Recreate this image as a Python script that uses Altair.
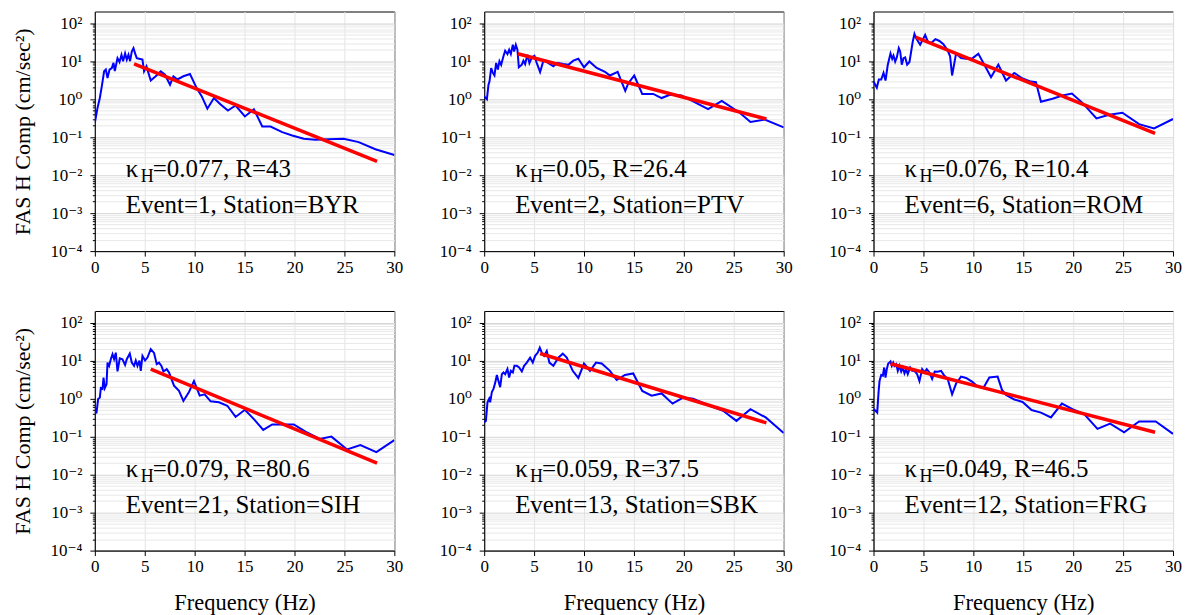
import altair as alt
import pandas as pd

# ---------------- data ----------------
f1 = [0, 0.27, 0.5, 0.7, 0.93, 1.1, 1.27, 1.47, 1.7, 1.87, 2.0, 2.27, 2.47, 2.67, 2.83, 3.03, 3.2, 3.37, 3.53, 3.7,
      3.87, 4.03, 4.2, 4.43, 4.77, 4.93, 5.17, 5.6, 6.1, 6.6, 7.03, 7.53, 7.87, 8.27, 8.87, 9.53, 10.2, 10.7, 11.27,
      11.93, 12.6, 13.33, 14.1, 15.03, 15.93, 16.77, 17.6, 18.77, 19.77, 20.93, 22.1, 23.43, 24.93, 26.43, 28.1, 30]
a1 = [0.24, 0.59, 1.07, 2.2, 5.4, 6.0, 3.6, 6.0, 6.6, 9.0, 5.5, 12, 9.5, 14.7, 10, 16, 11, 14.7, 10, 18,
      22, 16, 12, 11.6, 11, 5.4, 7.3, 3.1, 4.0, 5.4, 4.4, 2.4, 4.0, 3.3, 4.0, 4.6, 1.96, 1.2, 0.56,
      1.07, 0.72, 0.5, 0.68, 0.35, 0.54, 0.19, 0.19, 0.135, 0.11, 0.091, 0.085, 0.088, 0.091, 0.074, 0.048, 0.034]

f2 = [0, 0.27, 0.43, 0.53, 0.7, 0.87, 1.03, 1.2, 1.37, 1.53, 1.7, 1.93, 2.1, 2.33, 2.5, 2.67, 2.87, 3.0, 3.17, 3.33,
      3.47, 3.77, 3.93, 4.1, 4.33, 4.53, 4.77, 5.03, 5.27, 5.6, 5.93, 6.33, 6.93, 7.33, 7.93, 8.43, 8.93, 9.43, 10.0,
      10.53, 11.27, 12.1, 12.6, 13.37, 14.13, 14.43, 15.03, 15.83, 16.93, 17.77, 18.6, 19.77, 20.93, 22.43, 23.8,
      25.6, 26.67, 28.1, 30]
a2 = [1.17, 0.99, 2.4, 2.9, 6.6, 4.9, 4.2, 9, 6, 10, 8, 13.5, 18.8, 15.4, 20, 15.4, 27, 18, 27, 20,
      6.9, 8.1, 10.3, 8.4, 14.7, 8.9, 12.5, 13.9, 8.9, 5.2, 10.3, 9.3, 7.3, 9, 8.4, 8, 10.3, 11.6, 6.9,
      9.8, 6.6, 5.2, 4.2, 5.2, 1.66, 2.6, 4.2, 1.37, 1.37, 1.07, 1.3, 1.25, 0.87, 0.55, 0.9,
      0.44, 0.25, 0.29, 0.18]

f3 = [0, 0.33, 0.53, 0.77, 1.0, 1.2, 1.43, 1.7, 1.87, 2.0, 2.17, 2.33, 2.53, 2.67, 2.83, 3.0, 3.17, 3.37, 3.6, 3.77,
      3.93, 4.1, 4.27, 4.67, 4.93, 5.17, 5.43, 5.77, 6.2, 6.6, 7.0, 7.43, 7.67, 7.87, 8.27, 8.77, 9.27, 9.93, 10.5,
      11.1, 11.77, 12.5, 13.27, 14.1, 14.93, 15.77, 16.27, 16.77, 17.93, 18.93, 19.87, 20.93, 22.33, 23.6, 24.93,
      26.6, 28.1, 30]
a3 = [2.9, 2.0, 3.3, 3.3, 4.9, 3.1, 8.1, 16, 11.5, 14, 9.8, 12.6, 22, 18, 8.1, 12, 12.6, 8.1, 9.5, 18,
      33, 52, 40, 27, 37, 49, 33, 30, 38, 34, 28, 19, 13.4, 4.2, 16, 12, 11.6, 12, 15.7,
      8.1, 3.8, 8.1, 3.1, 4.9, 3.5, 2.9, 2.8, 0.85, 1.03, 1.25, 1.4, 0.8, 0.31, 0.39, 0.44,
      0.22, 0.17, 0.30]

f4 = [0, 0.17, 0.33, 0.5, 0.6, 0.77, 0.87, 1.0, 1.17, 1.27, 1.43, 1.6, 1.77, 1.93, 2.1, 2.27, 2.5, 2.77, 3.03, 3.2,
      3.5, 3.7, 3.93, 4.1, 4.27, 4.47, 4.6, 4.77, 5.03, 5.27, 5.6, 5.93, 6.2, 6.43, 6.67, 6.87, 7.2, 7.43, 7.93, 8.43,
      8.87, 9.43, 9.93, 10.5, 11.0, 11.6, 12.43, 13.27, 14.1, 15.03, 15.93, 16.87, 17.77, 18.77, 19.93, 21.1, 22.53,
      23.7, 25.27, 26.6, 28.2, 30]
a4 = [0.41, 0.43, 0.98, 1.07, 1.9, 1.8, 3.6, 1.9, 2.4, 8.9, 7.3, 10.9, 14.8, 10.9, 16.2, 5.2, 11.5, 10.9, 7.7, 10.9,
      15.3, 8.9, 7.3, 10.1, 7.3, 10.1, 5.4, 13.4, 10.1, 12.1, 20, 16, 8.1, 8.9, 7.3, 5.2, 6.0, 4.9, 2.2, 1.6,
      0.87, 1.5, 2.9, 1.2, 1.3, 0.85, 0.8, 0.65, 0.33, 0.51, 0.29, 0.15, 0.21, 0.21, 0.21, 0.135, 0.087,
      0.1, 0.046, 0.06, 0.039, 0.081]

f5 = [0, 0.17, 0.33, 0.5, 0.6, 0.77, 0.93, 1.1, 1.27, 1.43, 1.6, 1.77, 1.93, 2.1, 2.33, 2.5, 2.67, 2.87, 3.03, 3.27,
      3.5, 3.77, 4.0, 4.27, 4.6, 4.87, 5.1, 5.37, 5.57, 5.77, 6.0, 6.27, 6.53, 6.93, 7.43, 7.87, 8.27, 8.87, 9.43,
      10.0, 10.6, 11.2, 11.77, 12.6, 13.27, 14.1, 14.93, 15.83, 16.77, 17.77, 18.87, 19.93, 20.93, 22.6, 23.93,
      25.27, 26.67, 28.2, 30]
a5 = [0.24, 0.26, 0.8, 1.0, 0.8, 1.5, 1.8, 2.6, 4.2, 2.9, 2.0, 4.4, 4.9, 4.4, 6, 3.6, 5.4, 4.9, 7.3, 7.3,
      6.6, 5.2, 7.3, 8.9, 12, 8.9, 13.4, 16.3, 22, 16.3, 13.4, 18, 8.9, 7.3, 12, 15.3, 12, 5.4, 3.5,
      8.4, 5.4, 8.9, 8.4, 5.4, 3.1, 4.2, 4.6, 1.6, 1.2, 1.37, 0.74, 1.07, 1.0, 0.65, 0.48,
      0.26, 0.53, 0.32, 0.125]

f6 = [0, 0.2, 0.37, 0.5, 0.6, 0.77, 0.93, 1.07, 1.2, 1.33, 1.47, 1.6, 1.7, 1.83, 1.97, 2.1, 2.27, 2.43, 2.6, 2.77,
      2.93, 3.1, 3.27, 3.43, 3.67, 3.87, 4.1, 4.37, 4.6, 4.87, 5.1, 5.33, 5.6, 5.87, 6.13, 6.43, 6.77, 7.1, 7.43,
      7.87, 8.27, 8.77, 9.27, 9.87, 10.43, 11.0, 11.6, 12.43, 12.87, 13.27, 14.1, 14.93, 15.83, 16.77, 17.77,
      18.87, 19.93, 21.1, 22.43, 23.7, 25.1, 26.6, 28.27, 30]
a6 = [0.53, 0.48, 0.43, 1.44, 2.9, 4.2, 4.0, 6.6, 3.6, 6, 8.4, 8.9, 9.5, 7.3, 8.9, 7.3, 8.1, 5.4, 7.3, 5.2,
      6.6, 4.6, 6.0, 4.4, 6.6, 5.4, 5.4, 4.4, 2.9, 6, 4.9, 6, 4.9, 3.3, 5.2, 5.1, 5.4, 4.0, 3.3,
      1.3, 2.5, 3.8, 3.5, 2.8, 2.1, 1.9, 3.6, 3.8, 1.7, 1.25, 0.95, 0.82, 0.5, 0.43, 0.32,
      0.74, 0.53, 0.39, 0.16, 0.22, 0.13, 0.25, 0.25, 0.118]

# kappa fit lines (start, end)
fit_f = [[3.93, 28.27], [3.37, 28.27], [4.2, 28.2], [5.6, 28.27], [5.6, 28.27], [1.7, 28.2]]
fit_a = [[8.5, 0.023], [15.7, 0.30], [43, 0.126], [6.0, 0.020], [15.4, 0.23], [8.3, 0.13]]

kappa_vals = ["0.077", "0.05", "0.076", "0.079", "0.059", "0.049"]
r_vals = ["43", "26.4", "10.4", "80.6", "37.5", "46.5"]
events = ["1", "2", "6", "21", "13", "12"]
stations = ["BYR", "PTV", "ROM", "SIH", "SBK", "FRG"]

x_ticks = [0, 5, 10, 15, 20, 25, 30]
decades = [0.0001, 0.001, 0.01, 0.1, 1.0, 10.0, 100.0]
decade_labels = ["10⁻⁴", "10⁻³", "10⁻²", "10⁻¹", "10⁰", "10¹", "10²"]
y_title = "FAS H Comp (cm/sec²)"
x_title = "Frequency (Hz)"

# ---------------- styling ----------------
FONT = "'Liberation Serif', 'Times New Roman', 'DejaVu Serif', serif"
W, H = 300, 240

minor_ticks = [round(m * d, 8) for d in decades[:-1] for m in range(2, 10)]
y_values = decades + minor_ticks
dec_arr = "[" + ",".join(repr(d) for d in decades) + "]"
is_dec = f"indexof({dec_arr}, datum.value) >= 0"
label_expr = ""
for d, lab in zip(decades, decade_labels):
    label_expr += f"datum.value == {repr(d)} ? '{lab}' : "
label_expr += "''"


def panel(i, show_ytitle, show_xtitle):
    df = pd.DataFrame({"f": [f1, f2, f3, f4, f5, f6][i], "a": [a1, a2, a3, a4, a5, a6][i]})
    fit = pd.DataFrame({"f": fit_f[i], "a": fit_a[i]})

    xkw = dict(values=x_ticks, grid=True, gridColor="#e4e4e4", domainColor="black", tickColor="black",
               tickSize=5, labelFont=FONT, labelFontSize=17, labelColor="black", labelPadding=3,
               labelFlush=False, labelOverlap=False)
    if show_xtitle:
        xkw.update(title=x_title, titleFont=FONT, titleFontSize=22.5, titleFontWeight="normal",
                   titleColor="black", titleX=W / 2, titleY=52, titleAlign="center", titleBaseline="middle")
    else:
        xkw.update(title=None)

    ykw = dict(values=y_values, labelExpr=label_expr, grid=True,
               gridColor={"condition": {"test": is_dec, "value": "#d6d6d6"}, "value": "#e8e8e8"},
               domainColor="black", tickColor="black",
               tickSize={"condition": {"test": is_dec, "value": 5}, "value": 2.5},
               labelFont=FONT, labelFontSize=17, labelColor="black", labelPadding=8,
               labelOverlap=False, labelBound=False)
    if show_ytitle:
        ykw.update(title=y_title, titleFont=FONT, titleFontSize=22, titleFontWeight="normal",
                   titleColor="black", titleAngle=270, titleX=-72, titleY=H / 2,
                   titleAlign="center", titleBaseline="middle")
    else:
        ykw.update(title=None)

    xs = alt.Scale(domain=[0, 30], nice=False, zero=False)
    ys = alt.Scale(type="log", domain=[0.0001, 203], nice=False)

    blue = alt.Chart(df).mark_line(color="#0000ff", strokeWidth=2, clip=True).encode(
        x=alt.X("f:Q", scale=xs, axis=alt.Axis(**xkw)),
        y=alt.Y("a:Q", scale=ys, axis=alt.Axis(**ykw)),
    )
    red = alt.Chart(fit).mark_line(color="#ff0000", strokeWidth=3.5).encode(x="f:Q", y="a:Q")

    def txt(s, x, y, size, dy=0):
        return alt.Chart(pd.DataFrame({"t": [s]})).mark_text(
            align="left", baseline="alphabetic", font=FONT, fontSize=size, color="black", dy=dy
        ).encode(x=alt.value(x), y=alt.value(y), text="t:N")

    k1 = txt("κ", 31, 166, 25)
    k2 = txt("H", 46, 166, 18, dy=5)
    k3 = txt(f"={kappa_vals[i]}, R={r_vals[i]}", 58, 166, 25)
    ev = txt(f"Event={events[i]}, Station={stations[i]}", 31, 202, 25)

    return alt.layer(blue, red, k1, k2, k3, ev).properties(width=W, height=H)


panels = [panel(i, i % 3 == 0, i >= 3) for i in range(6)]

chart = alt.concat(*panels, columns=3, spacing={"row": 60, "column": 90}, bounds="flush").properties(
    padding={"left": 11, "top": 10, "right": 5, "bottom": 5}, background="white"
).configure_view(stroke="black", strokeWidth=1)

chart.save("out.html", embed_options={"renderer": "svg", "actions": False})
